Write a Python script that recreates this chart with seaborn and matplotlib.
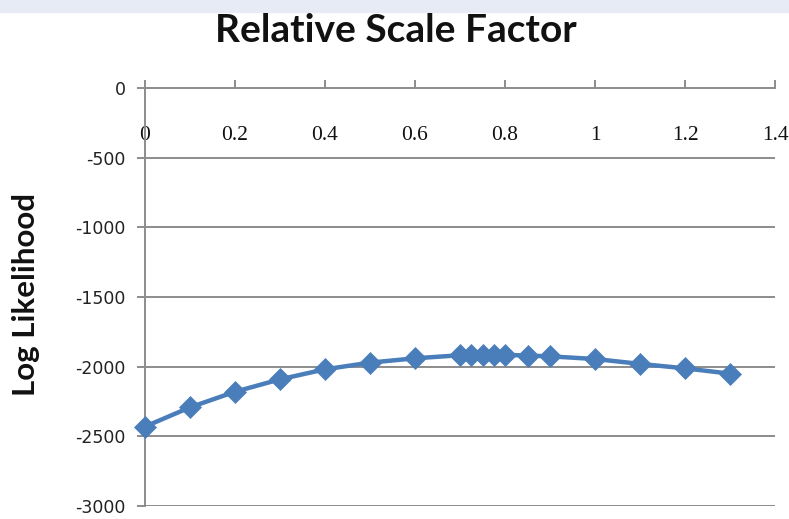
import matplotlib
matplotlib.use("Agg")
import matplotlib.pyplot as plt
import seaborn as sns
import pandas as pd

# Relative scale factor vs. log likelihood
scale_factor = [0.0, 0.1, 0.2, 0.3, 0.4, 0.5, 0.6, 0.7, 0.725, 0.75, 0.775,
                0.8, 0.85, 0.9, 1.0, 1.1, 1.2, 1.3]
log_likelihood = [-2430, -2292, -2180, -2091, -2019, -1971, -1940, -1918,
                  -1915, -1914, -1914, -1915, -1920, -1926, -1945, -1980,
                  -2012, -2050]
x_ticks = [0, 0.2, 0.4, 0.6, 0.8, 1.0, 1.2, 1.4]
x_tick_labels = ["0", "0.2", "0.4", "0.6", "0.8", "1", "1.2", "1.4"]
y_ticks = [0, -500, -1000, -1500, -2000, -2500, -3000]

df = pd.DataFrame({"scale": scale_factor, "ll": log_likelihood})

sns.set_style("white")
W, H = 789, 519
fig = plt.figure(figsize=(W / 100, H / 100), dpi=100)
ax = fig.add_axes([145 / W, 1 - 506 / H, 630 / W, 418 / H])

grid_col = "#8c8c8c"
blue = "#4a7ebb"

# faint slide band at the very top
fig.patches.append(plt.Rectangle((0, 1 - 12 / H), 1, 12 / H,
                                 transform=fig.transFigure,
                                 color="#e6ebf5", zorder=0))

for v in y_ticks[1:]:
    ax.axhline(v, color=grid_col, lw=1.4, zorder=1)

sns.lineplot(data=df, x="scale", y="ll", ax=ax, color=blue, lw=3.2,
             marker="D", markersize=11, markeredgecolor=blue,
             markeredgewidth=0.5, zorder=3, clip_on=False)

ax.set_xlim(0, 1.4)
ax.set_ylim(-3000, 0)

for side in ["right", "bottom"]:
    ax.spines[side].set_visible(False)
for side in ["left", "top"]:
    ax.spines[side].set_color(grid_col)
    ax.spines[side].set_linewidth(1.4)

ax.set_xticks(x_ticks)
ax.set_xticklabels(x_tick_labels)
ax.xaxis.set_ticks_position("top")
ax.tick_params(axis="x", top=True, bottom=False, labeltop=True,
               labelbottom=False, direction="out", length=6,
               width=1.4, color=grid_col, pad=-47,
               labelsize=15.5, labelcolor="#111111")
for lab in ax.get_xticklabels():
    lab.set_fontfamily("Liberation Serif")

ax.set_yticks(y_ticks)
ax.set_yticklabels([str(v) for v in y_ticks])
ax.tick_params(axis="y", left=True, direction="out", length=6, width=1.4,
               color=grid_col, pad=8, labelsize=12.5, labelcolor="#222222")
for lab in ax.get_yticklabels():
    lab.set_fontfamily("DejaVu Sans")

ax.set_xlabel("")
ax.set_ylabel("Log Likelihood", fontsize=22.5, fontweight="bold",
              family="Lato", color="#111111")
ax.yaxis.set_label_coords(-105 / 630, (506 - 294) / 418)

fig.text(396 / W, 1 - 31 / H, "Relative Scale Factor", ha="center",
         va="center", fontsize=28, fontweight="bold", family="Lato",
         color="#111111")

fig.savefig("out.png", dpi=100)
